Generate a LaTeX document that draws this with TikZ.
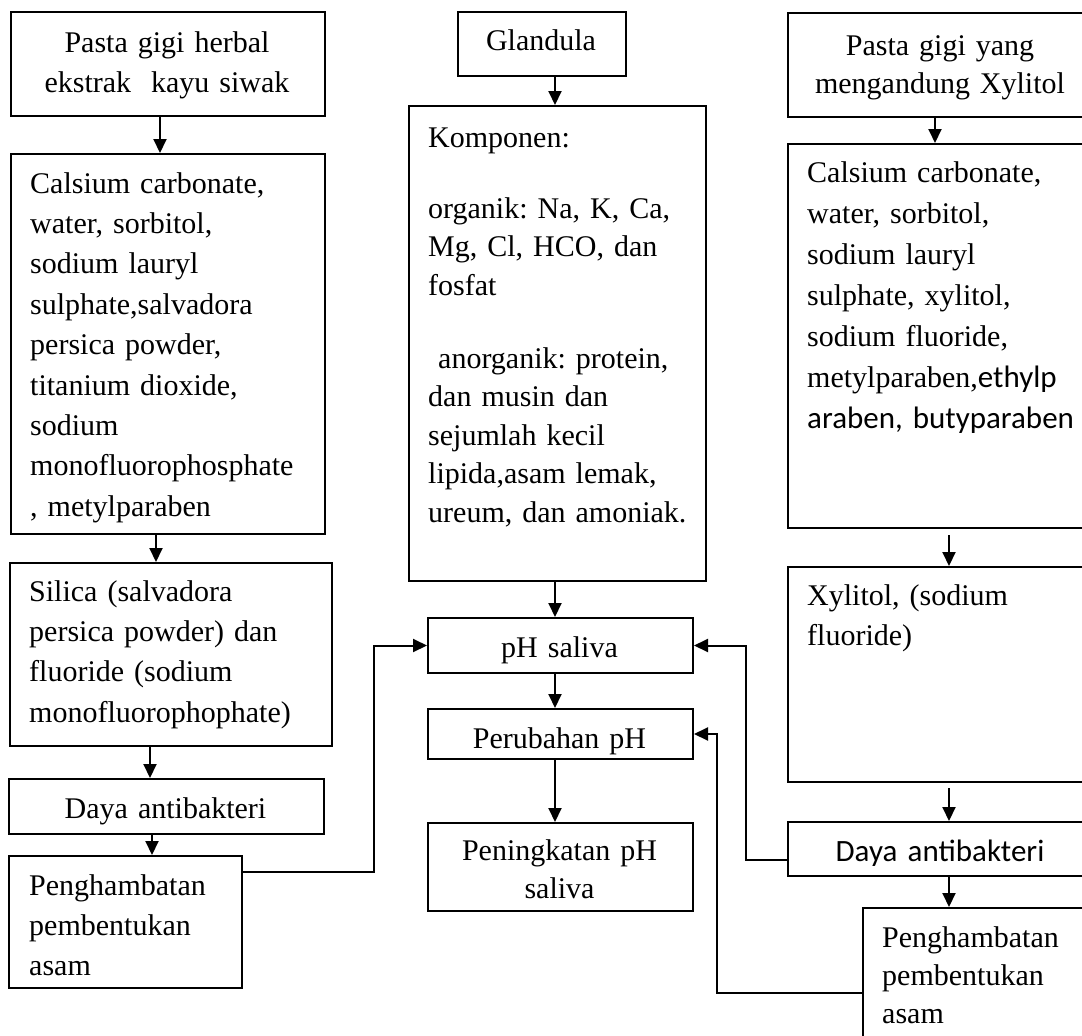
\documentclass[tikz,border=0pt]{standalone}
\usepackage{fontspec}
\setmainfont{Liberation Serif}
\newfontfamily\calfont{Carlito}
\usetikzlibrary{arrows.meta}
\frenchspacing
\begin{document}
\begin{tikzpicture}[x=1pt,y=-1pt,
  bx/.style={draw, line width=2pt, inner sep=0pt, anchor=north west},
  tx/.style={inner sep=0pt, anchor=base west, text width=#1, align=left},
  tc/.style={inner sep=0pt, anchor=base, text width=#1, align=center},
  fa/.style={font=\fontsize{30}{40.4}\selectfont},
  fb/.style={font=\fontsize{30}{38.5}\selectfont},
  fc/.style={font=\fontsize{30}{41}\selectfont},
  arr/.style={line width=2pt, -{Triangle[length=14pt,width=13pt]}}]
\fill[white] (0,0) rectangle (1082,1036);
\useasboundingbox (0,0) rectangle (1082,1036);
\clip (0,0) rectangle (1082,1036);
% ---------- boxes ----------
\node[bx, minimum width=314pt, minimum height=104pt] (A) at (10,11) {};
\node[bx, minimum width=314pt, minimum height=380pt] (B) at (10,153) {};
\node[bx, minimum width=322pt, minimum height=183pt] (C) at (9,562) {};
\node[bx, minimum width=315pt, minimum height=55pt] (D) at (8,778) {};
\node[bx, minimum width=233pt, minimum height=132pt] (E) at (8,855) {};
\node[bx, minimum width=168pt, minimum height=64pt] (G) at (457,11) {};
\node[bx, minimum width=297pt, minimum height=475pt] (K) at (408,105) {};
\node[bx, minimum width=265pt, minimum height=55pt] (P) at (427,617) {};
\node[bx, minimum width=265pt, minimum height=50pt] (Q) at (427,708) {};
\node[bx, minimum width=265pt, minimum height=88pt] (R) at (427,822) {};
\node[bx, minimum width=306pt, minimum height=104pt] (S) at (787,12) {};
\node[bx, minimum width=306pt, minimum height=384pt] (T) at (787,143) {};
\node[bx, minimum width=306pt, minimum height=215pt] (U) at (787,566) {};
\node[bx, minimum width=306pt, minimum height=54pt] (V) at (787,821) {};
\node[bx, minimum width=231pt, minimum height=153pt] (W) at (862,907) {};
% ---------- texts ----------
\node[tc=314pt, fa] (tA) at (167,52) {Pasta gigi herbal\\ekstrak\ \ kayu siwak};
\node[tx=300pt, fa] (tB) at (30,193) {Calsium carbonate,\\water, sorbitol,\\sodium lauryl\\sulphate,salvadora\\persica powder,\\titanium dioxide,\\sodium\\monofluorophosphate\\, metylparaben};
\node[tx=300pt, fa] (tC) at (29,601) {Silica (salvadora\\persica powder) dan\\fluoride (sodium\\monofluorophophate)};
\node[tc=310pt, fa] (tD) at (165.5,818) {Daya antibakteri};
\node[tx=220pt, fa] (tE) at (29,895) {Penghambatan\\pembentukan\\asam};
\node[tc=160pt, fa] (tG) at (541,50) {Glandula};
\node[tx=270pt, fb] (tK1) at (428,147) {Komponen:};
\node[tx=270pt, fb] (tK2) at (428,218) {organik: Na, K, Ca,\\Mg, Cl, HCO, dan\\fosfat};
\node[tx=270pt, fb] (tK3) at (428,368) {\ anorganik: protein,\\dan musin dan\\sejumlah kecil\\lipida,asam lemak,\\ureum, dan amoniak.};
\node[tc=260pt, fa] (tP) at (559.5,657) {pH saliva};
\node[tc=260pt, fa] (tQ) at (559.5,748) {Perubahan pH};
\node[tc=260pt, font=\fontsize{30}{38}\selectfont] (tR) at (559.5,860) {Peningkatan pH\\saliva};
\node[tc=300pt, font=\fontsize{30}{38}\selectfont] (tS) at (940,55) {Pasta gigi yang\\mengandung Xylitol};
\node[tx=280pt, fc] (tT) at (807,182) {Calsium carbonate,\\water, sorbitol,\\sodium lauryl\\sulphate, xylitol,\\sodium fluoride,\\metylparaben,{\calfont\fontsize{31}{41}\selectfont ethylp}\\{\calfont\fontsize{31}{41}\selectfont araben, butyparaben}};
\node[tx=280pt, fa] (tU) at (807,605) {Xylitol, (sodium\\fluoride)};
\node[tc=300pt, font=\calfont\fontsize{31}{38}\selectfont] (tV) at (940,861) {Daya antibakteri};
\node[tx=200pt, font=\fontsize{30}{38}\selectfont] (tW) at (882,947) {Penghambatan\\pembentukan\\asam};
% ---------- arrows ----------
\draw[arr] ([xshift=-8pt]A.south) -- ([xshift=-8pt]A.south |- B.north);
\draw[arr] ([xshift=-12pt]B.south) -- ([xshift=-12pt]B.south |- C.north);
\draw[arr] ([xshift=-21pt]C.south) -- ([xshift=-21pt]C.south |- D.north);
\draw[arr] ([xshift=-14.5pt]D.south) -- ([xshift=-14.5pt]D.south |- E.north);
\draw[arr] ([xshift=13pt]G.south) -- ([xshift=13pt]G.south |- K.north);
\draw[arr] ([xshift=-2.5pt]K.south) -- ([xshift=-2.5pt]K.south |- P.north);
\draw[arr] ([xshift=-5.5pt]P.south) -- ([xshift=-5.5pt]P.south |- Q.north);
\draw[arr] ([xshift=-5.5pt]Q.south) -- ([xshift=-5.5pt]Q.south |- R.north);
\draw[arr] ([xshift=-6pt]S.south) -- ([xshift=-6pt]S.south |- T.north);
\draw[arr] ([xshift=8pt,yshift=-6pt]T.south) -- ([xshift=8pt]T.south |- U.north);
\draw[arr] ([xshift=8pt,yshift=-5pt]U.south) -- ([xshift=8pt]U.south |- V.north);
\draw[arr] ([xshift=8pt]V.south) -- ([xshift=8pt]V.south |- W.north);
% ---------- feedback connectors ----------
\draw[arr] ([yshift=-17pt]E.north east) -- ++(131,0) |- (P.west);
\draw[arr] ([yshift=-11pt]V.west) -- ++(-41,0) |- (P.east);
\draw[arr] ([yshift=-86pt]W.north west) -- ++(-145,0) |- (Q.east);
\end{tikzpicture}
\end{document}
